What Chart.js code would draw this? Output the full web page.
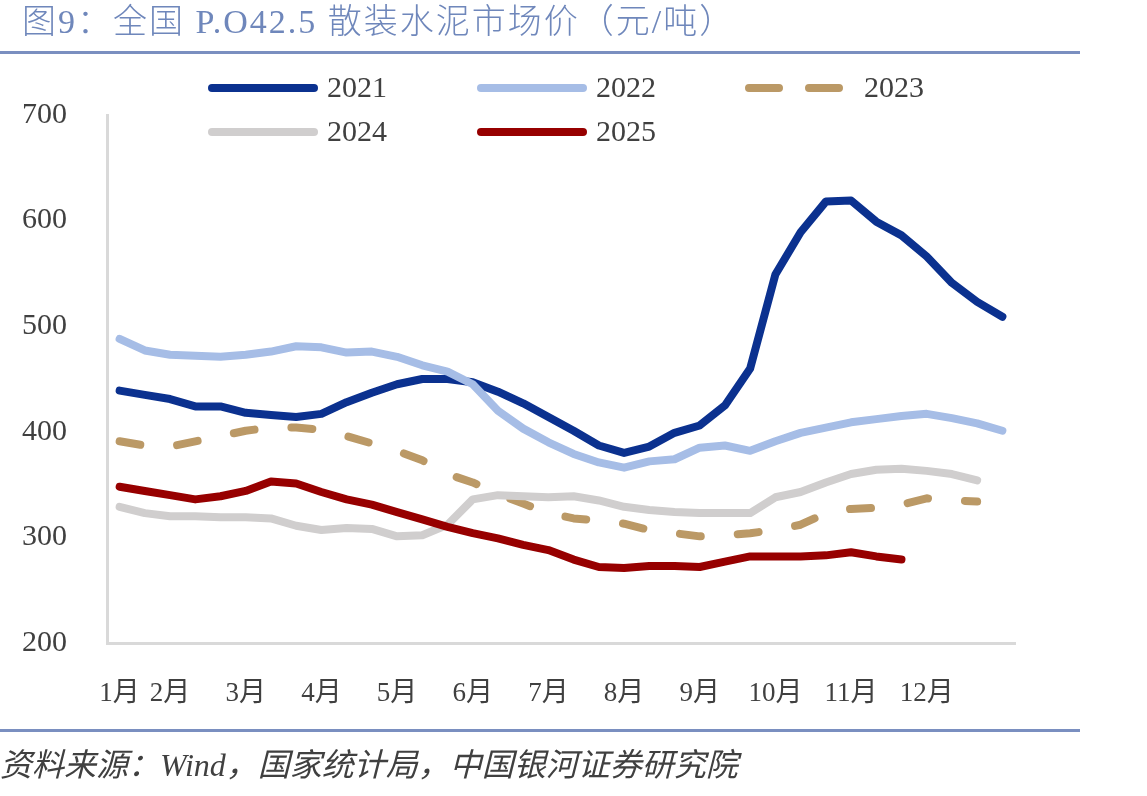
<!DOCTYPE html>
<html>
<head>
<meta charset="utf-8">
<script src="https://cdn.jsdelivr.net/npm/chart.js@4.4.1/dist/chart.umd.min.js"></script>
<style>
  body { margin: 0; background: #fff; }
  #wrap { position: relative; width: 1147px; height: 796px; overflow: hidden; }
  #cementChart { position: absolute; left: 0; top: 0; }
  .title {
    position: absolute; left: 22px; top: 1px; line-height: 42px;
    font-family: "Liberation Serif", "Noto Sans CJK SC", serif;
    font-size: 34px; font-weight: 300; letter-spacing: 2px; color: #6f87bb; white-space: nowrap;
  }
  .rule { position: absolute; left: 0; width: 1080px; height: 3px; background: #7a8fc0; }
  .source {
    position: absolute; left: 0; top: 744px; line-height: 42px;
    font-family: "Liberation Serif", "Noto Sans CJK SC", serif;
    font-size: 32px; font-style: italic; color: #404040; white-space: nowrap;
  }
</style>
</head>
<body>
<div id="wrap">
  <canvas id="cementChart" width="1147" height="796"></canvas>
  <div class="title">图9：全国 P.O42.5 散装水泥市场价（元/吨）</div>
  <div class="rule" style="top:51px"></div>
  <div class="rule" style="top:729px"></div>
  <div class="source">资料来源：Wind，国家统计局，中国银河证券研究院</div>
</div>
<script>
// 36 weekly points a year, month names only on some of them
const weekLabels = [
  "1月", "", "2月", "", "", "3月", "", "", "4月", "", "", "5月",
  "", "", "6月", "", "", "7月", "", "", "8月", "", "", "9月",
  "", "", "10月", "", "", "11月", "", "", "12月", "", "", ""
];

const years = ["2021", "2022", "2023", "2024", "2025"];

const price2021 = [439, 435, 431, 424, 424, 418, 416, 414, 417, 428, 437, 445,
  450, 450, 447, 438, 427, 414, 401, 387, 380, 386, 399, 406,
  425, 460, 549, 589, 618, 619, 599, 586, 566, 541, 523, 509];
const price2022 = [488, 477, 473, 472, 471, 473, 476, 481, 480, 475, 476, 471,
  463, 457, 445, 420, 403, 390, 379, 371, 366, 372, 374, 385,
  387, 382, 391, 399, 404, 409, 412, 415, 417, 413, 408, 401];
const price2023 = [391, 387, 386, 391, 396, 401, 404, 404, 402, 396, 389, 382,
  373, 360, 352, 341, 332, 323, 318, 316, 313, 307, 304, 301,
  302, 304, 307, 312, 323, 327, 328, 331, 337, 335, 334];
const price2024 = [329, 323, 320, 320, 319, 319, 318, 311, 307, 309, 308, 301,
  302, 312, 336, 340, 339, 338, 339, 335, 329, 326, 324, 323,
  323, 323, 338, 343, 352, 360, 364, 365, 363, 360, 354];
const price2025 = [348, 344, 340, 336, 339, 344, 353, 351, 343, 336, 331, 324,
  317, 310, 304, 299, 293, 288, 279, 272, 271, 273, 273, 272,
  277, 282, 282, 282, 283, 286, 282, 279];

const yTicks = [200, 300, 400, 500, 600, 700];

const serif = "'Liberation Serif', 'Noto Sans CJK SC', serif";
const textColor = "#404040";

function lineSet(label, data, color, dash) {
  return {
    label: label,
    data: data,
    borderColor: color,
    backgroundColor: color,
    borderWidth: 8,
    borderDash: dash || [],
    borderCapStyle: "round",
    borderJoinStyle: "round",
    pointRadius: 0,
    tension: 0,
    fill: false
  };
}

const datasets = [
  lineSet(years[0], price2021, "#0b318f"),
  lineSet(years[1], price2022, "#a6bde6"),
  lineSet(years[2], price2023, "#bb9966", [21, 37]),
  lineSet(years[3], price2024, "#d0cece"),
  lineSet(years[4], price2025, "#970000")
];
// later years sit on top, like the original
datasets.forEach((d, i) => { d.order = datasets.length - i; });

// legend drawn as line samples, 3 per row
const lineLegend = {
  id: "lineLegend",
  afterDraw(chart, args, opts) {
    const c = chart.ctx;
    c.save();
    chart.data.datasets.forEach((ds, i) => {
      const x = opts.cols[i % 3];
      const y = opts.rows[Math.floor(i / 3)];
      c.beginPath();
      c.strokeStyle = ds.borderColor;
      c.lineWidth = ds.borderWidth;
      c.lineCap = "round";
      c.setLineDash(ds.borderDash.length ? [30, 30] : []);
      c.moveTo(x + 4, y);
      c.lineTo(x + 106, y);
      c.stroke();
      c.setLineDash([]);
      c.fillStyle = textColor;
      c.font = "30px " + serif;
      c.textBaseline = "middle";
      c.fillText(ds.label, x + 119, y + 1);
    });
    c.restore();
  }
};

const ctx = document.getElementById("cementChart");

new Chart(ctx, {
  type: "line",
  data: { labels: weekLabels, datasets: datasets },
  options: {
    responsive: false,
    animation: false,
    layout: { padding: { top: 115, right: 132, bottom: 53, left: 0 } },
    plugins: {
      legend: { display: false },
      tooltip: { enabled: false },
      lineLegend: { cols: [208, 477, 745], rows: [88, 132] }
    },
    scales: {
      x: {
        offset: true,
        grid: { display: false, drawTicks: false },
        border: { display: true, color: "#d9d9d9", width: 3 },
        ticks: {
          autoSkip: false, maxRotation: 0, minRotation: 0, padding: 35,
          color: textColor, font: { family: serif, size: 27 }
        },
        afterFit(scale) { scale.height = 100; }
      },
      y: {
        min: yTicks[0],
        max: yTicks[yTicks.length - 1],
        grid: { display: false, drawTicks: false },
        border: { display: true, color: "#d9d9d9", width: 3 },
        ticks: {
          stepSize: 100, padding: 40,
          color: textColor, font: { family: serif, size: 30 }
        },
        afterFit(scale) { scale.width = 107; }
      }
    }
  },
  plugins: [lineLegend]
});
</script>
</body>
</html>
